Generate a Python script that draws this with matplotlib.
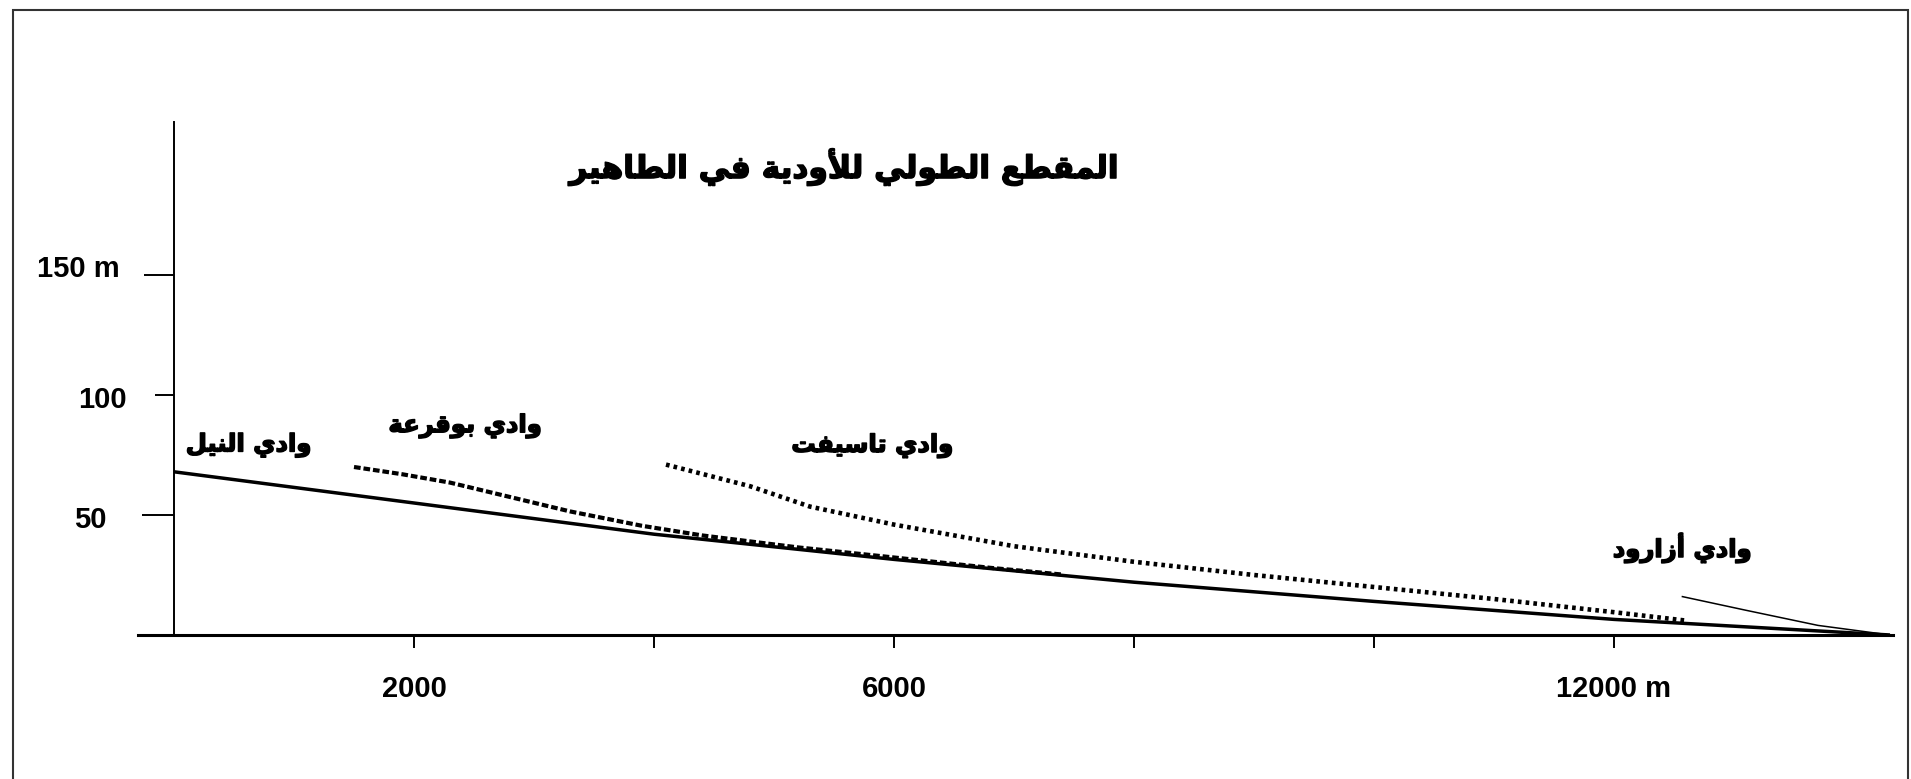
import matplotlib
matplotlib.use('Agg')
import matplotlib.pyplot as plt
import matplotlib.patheffects as pe
from matplotlib.patches import Rectangle
from matplotlib.transforms import ScaledTranslation

# distance along the wadi (m) and elevation (m)
nil_x = [0, 2000, 4000, 6000, 8000, 10000, 12000, 14300]
nil_y = [68, 55, 42, 31.5, 22, 14, 6.5, 0]

bouqaraa_x = [1500, 1900, 2300, 2800, 3300, 3900, 4400, 5200, 6000, 6800, 7400]
bouqaraa_y = [70, 67, 63.5, 57.5, 51.5, 45.5, 41.5, 36.5, 32.3, 28, 25.2]

tasift_x = [4100, 4800, 5300, 6000, 7000, 8000, 9000, 10000, 11000, 12000, 12600]
tasift_y = [71, 62, 53.5, 46, 37, 30.5, 25, 20, 15, 9.5, 6]

azaroud_x = [12570, 13100, 13700, 14300]
azaroud_y = [16, 10.3, 4, 0]

title = 'المقطع الطولي للأودية في الطاهير'
names = ['وادي النيل', 'وادي بوقرعة', 'وادي تاسيفت', 'وادي أزارود']

xticks = [2000, 4000, 6000, 8000, 10000, 12000]
xlabels = ['2000', '', '6000', '', '', '12000 m']
yticks = [50, 100, 150]
ylabels = ['50', '100', '150 m']

# matplotlib does no arabic shaping, so pick presentation forms by hand
forms = {
    'ا': (0xFE8D, 2), 'أ': (0xFE83, 2), 'ب': (0xFE8F, 4), 'ة': (0xFE93, 2),
    'ت': (0xFE95, 4), 'د': (0xFEA9, 2), 'ر': (0xFEAD, 2), 'ز': (0xFEAF, 2),
    'س': (0xFEB1, 4), 'ط': (0xFEC1, 4), 'ع': (0xFEC9, 4), 'ف': (0xFED1, 4),
    'ق': (0xFED5, 4), 'ل': (0xFEDD, 4), 'م': (0xFEE1, 4), 'ن': (0xFEE5, 4),
    'ه': (0xFEE9, 4), 'و': (0xFEED, 2), 'ي': (0xFEF1, 4),
}
lig = {'لا': 0xFEFB, 'لأ': 0xFEF7}


def shape(text):
    tokens = []
    i = 0
    while i < len(text):
        if text[i] == 'ل' and i + 1 < len(text) and text[i + 1] in 'اأ':
            tokens.append(text[i:i + 2])
            i += 2
        else:
            tokens.append(text[i])
            i += 1
    out = []
    for k, t in enumerate(tokens):
        prev = tokens[k - 1] if k > 0 else None
        nxt = tokens[k + 1] if k + 1 < len(tokens) else None
        is_letter = t in forms or t in lig
        jp = prev in forms and forms[prev][1] == 4 and is_letter
        if t in lig:
            out.append(chr(lig[t] + (1 if jp else 0)))
            continue
        if t not in forms:
            out.append(t)
            continue
        base, nf = forms[t]
        jn = nf == 4 and nxt is not None and (nxt in forms or nxt in lig)
        off = 3 if (jp and jn) else 1 if jp else 2 if jn else 0
        out.append(chr(base + off))
    return ''.join(reversed(out))


plt.rcParams['font.family'] = ['Liberation Sans', 'DejaVu Sans']
heavy = [pe.withStroke(linewidth=1.1, foreground='black')]

W, H = 1911, 779
fig = plt.figure(figsize=(W / 100, H / 100), dpi=100)
fig.patches.append(Rectangle((13 / W, -0.05), (1908 - 13) / W, 1.05 - 10 / H,
                             transform=fig.transFigure, fill=False,
                             edgecolor='#333333', lw=1.5))

ax = fig.add_axes([138 / W, (H - 635) / H, (1893 - 138) / W, (635 - 122) / H])
ax.set_xlim(-300, 14325)
ax.set_ylim(0, 213.75)
for s in ['top', 'right']:
    ax.spines[s].set_visible(False)
ax.spines['left'].set_position(('data', 0))
ax.spines['left'].set_linewidth(1.4)
ax.spines['bottom'].set_linewidth(2.2)

ax.plot(nil_x, nil_y, color='black', lw=2.5, solid_capstyle='butt')
ax.plot(bouqaraa_x, bouqaraa_y, color='black', lw=3.0, linestyle=(0, (1.6, 0.7)))
ax.plot(tasift_x, tasift_y, color='black', lw=3.3, linestyle=(0, (0.8, 0.9)))
ax.plot(azaroud_x, azaroud_y, color='black', lw=1.1)

ax.set_xticks(xticks)
ax.set_xticklabels(xlabels)
ax.set_yticks(yticks)
ax.set_yticklabels(ylabels)
ax.tick_params(axis='x', direction='out', length=9.5, width=1.4, pad=19, labelsize=21)
ax.tick_params(axis='y', direction='out', length=20, width=1.4, pad=19, labelsize=21)
for lab in ax.get_xticklabels() + ax.get_yticklabels():
    lab.set_fontweight('bold')
for tk, size in zip(ax.yaxis.get_major_ticks(), [23, 13.7, 21.6]):
    tk.tick1line.set_markersize(size)
# the y labels are not lined up in the original
for lab, dx, dy in zip(ax.get_yticklabels(), [-13, 7, 0], [-2, -2, 9]):
    lab.set_transform(lab.get_transform() +
                      ScaledTranslation(dx / 100, dy / 100, fig.dpi_scale_trans))

label_pos = [(620, 79), (2425, 87), (5817, 78.75), (12567, 36.25)]
for name, (lx, ly) in zip(names, label_pos):
    ax.text(lx, ly, shape(name), ha='center', va='center', fontsize=17.5,
            fontweight='bold', family='DejaVu Sans', path_effects=heavy)

fig.text(844 / W, 1 - 167 / H, shape(title), ha='center', va='center',
         fontsize=22.5, fontweight='bold', family='DejaVu Sans', path_effects=heavy)

fig.savefig('out.png', dpi=100)
